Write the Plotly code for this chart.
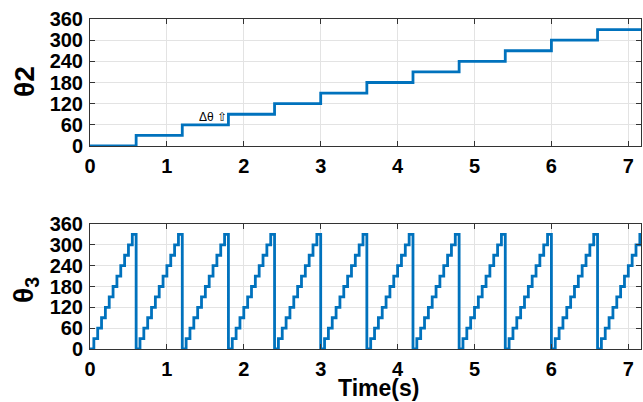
import plotly.graph_objects as go

# ---- data ----
theta2_times = [0.0, 0.6, 1.2, 1.8, 2.4, 3.0, 3.6, 4.2, 4.8, 5.4, 6.0, 6.6, 7.2]
theta2_values = [0, 30, 60, 90, 120, 150, 180, 210, 240, 270, 300, 330, 330]

theta3_times = [
    0.00, 0.05, 0.10, 0.15, 0.20, 0.25, 0.30, 0.35, 0.40, 0.45, 0.50, 0.55,
    0.60, 0.65, 0.70, 0.75, 0.80, 0.85, 0.90, 0.95, 1.00, 1.05, 1.10, 1.15,
    1.20, 1.25, 1.30, 1.35, 1.40, 1.45, 1.50, 1.55, 1.60, 1.65, 1.70, 1.75,
    1.80, 1.85, 1.90, 1.95, 2.00, 2.05, 2.10, 2.15, 2.20, 2.25, 2.30, 2.35,
    2.40, 2.45, 2.50, 2.55, 2.60, 2.65, 2.70, 2.75, 2.80, 2.85, 2.90, 2.95,
    3.00, 3.05, 3.10, 3.15, 3.20, 3.25, 3.30, 3.35, 3.40, 3.45, 3.50, 3.55,
    3.60, 3.65, 3.70, 3.75, 3.80, 3.85, 3.90, 3.95, 4.00, 4.05, 4.10, 4.15,
    4.20, 4.25, 4.30, 4.35, 4.40, 4.45, 4.50, 4.55, 4.60, 4.65, 4.70, 4.75,
    4.80, 4.85, 4.90, 4.95, 5.00, 5.05, 5.10, 5.15, 5.20, 5.25, 5.30, 5.35,
    5.40, 5.45, 5.50, 5.55, 5.60, 5.65, 5.70, 5.75, 5.80, 5.85, 5.90, 5.95,
    6.00, 6.05, 6.10, 6.15, 6.20, 6.25, 6.30, 6.35, 6.40, 6.45, 6.50, 6.55,
    6.60, 6.65, 6.70, 6.75, 6.80, 6.85, 6.90, 6.95, 7.00, 7.05, 7.10, 7.15,
    7.20,
]
theta3_values = [
    0, 30, 60, 90, 120, 150, 180, 210, 240, 270, 300, 330,
    0, 30, 60, 90, 120, 150, 180, 210, 240, 270, 300, 330,
    0, 30, 60, 90, 120, 150, 180, 210, 240, 270, 300, 330,
    0, 30, 60, 90, 120, 150, 180, 210, 240, 270, 300, 330,
    0, 30, 60, 90, 120, 150, 180, 210, 240, 270, 300, 330,
    0, 30, 60, 90, 120, 150, 180, 210, 240, 270, 300, 330,
    0, 30, 60, 90, 120, 150, 180, 210, 240, 270, 300, 330,
    0, 30, 60, 90, 120, 150, 180, 210, 240, 270, 300, 330,
    0, 30, 60, 90, 120, 150, 180, 210, 240, 270, 300, 330,
    0, 30, 60, 90, 120, 150, 180, 210, 240, 270, 300, 330,
    0, 30, 60, 90, 120, 150, 180, 210, 240, 270, 300, 330,
    0, 30, 60, 90, 120, 150, 180, 210, 240, 270, 300, 330,
    0,
]

y_ticks = [0, 60, 120, 180, 240, 300, 360]
x_ticks = [0, 1, 2, 3, 4, 5, 6, 7]

LINE = "#0072BD"
FONT = "Liberation Sans, Arial, sans-serif"

fig = go.Figure()
fig.add_trace(go.Scatter(x=theta2_times, y=theta2_values, mode="lines",
                         line=dict(color=LINE, width=2.8, shape="hv"),
                         xaxis="x", yaxis="y", showlegend=False))
fig.add_trace(go.Scatter(x=theta3_times, y=theta3_values, mode="lines",
                         line=dict(color=LINE, width=2.8, shape="hv"),
                         xaxis="x2", yaxis="y2", showlegend=False))

axis_common = dict(showline=True, linecolor="#333333", linewidth=1, mirror="ticks",
                   ticks="inside", ticklen=5, tickcolor="#333333", automargin=False,
                   showgrid=True, gridcolor="#E3E3E3", gridwidth=1, zeroline=False,
                   tickfont=dict(family=FONT, size=20, color="black", weight="bold"))

xd = [90 / 643, 641 / 643]
fig.update_layout(
    width=643, height=402,
    margin=dict(l=0, r=0, t=0, b=0, pad=0, autoexpand=False),
    paper_bgcolor="white", plot_bgcolor="white",
    xaxis=dict(domain=xd, range=[0, 7.165], tickvals=x_ticks, anchor="y",
               ticklabelstandoff=2, **axis_common),
    yaxis=dict(domain=[1 - 146 / 402, 1 - 19 / 402], range=[0, 360], tickvals=y_ticks,
               anchor="x", ticklabelstandoff=2, **axis_common),
    xaxis2=dict(domain=xd, range=[0, 7.165], tickvals=x_ticks, anchor="y2",
                ticklabelstandoff=2, **axis_common),
    yaxis2=dict(domain=[1 - 349 / 402, 1 - 224 / 402], range=[0, 360], tickvals=y_ticks,
                anchor="x2", ticklabelstandoff=2, **axis_common),
    annotations=[
        dict(text="θ2", x=25 / 643, y=1 - 82 / 402, xref="paper", yref="paper",
             xanchor="center", yanchor="middle",
             showarrow=False, textangle=-90,
             font=dict(family=FONT, size=28, color="black", weight="bold")),
        dict(text="θ<sub>3</sub>", x=25 / 643, y=1 - 290 / 402, xref="paper", yref="paper",
             xanchor="center", yanchor="middle",
             showarrow=False, textangle=-90,
             font=dict(family=FONT, size=28, color="black", weight="bold")),
        dict(text="Time(s)", x=378 / 643, y=1 - 388 / 402, xref="paper", yref="paper",
             xanchor="center", yanchor="middle",
             showarrow=False,
             font=dict(family=FONT, size=23, color="black", weight="bold")),
        dict(text="Δθ ⇧", x=1.6, y=82, xref="x", yref="y", showarrow=False,
             font=dict(family=FONT, size=12, color="black")),
    ],
)

fig.write_html("out.html", config={"displayModeBar": False},
               post_script="document.body.style.margin='0';document.body.style.overflow='hidden';")
